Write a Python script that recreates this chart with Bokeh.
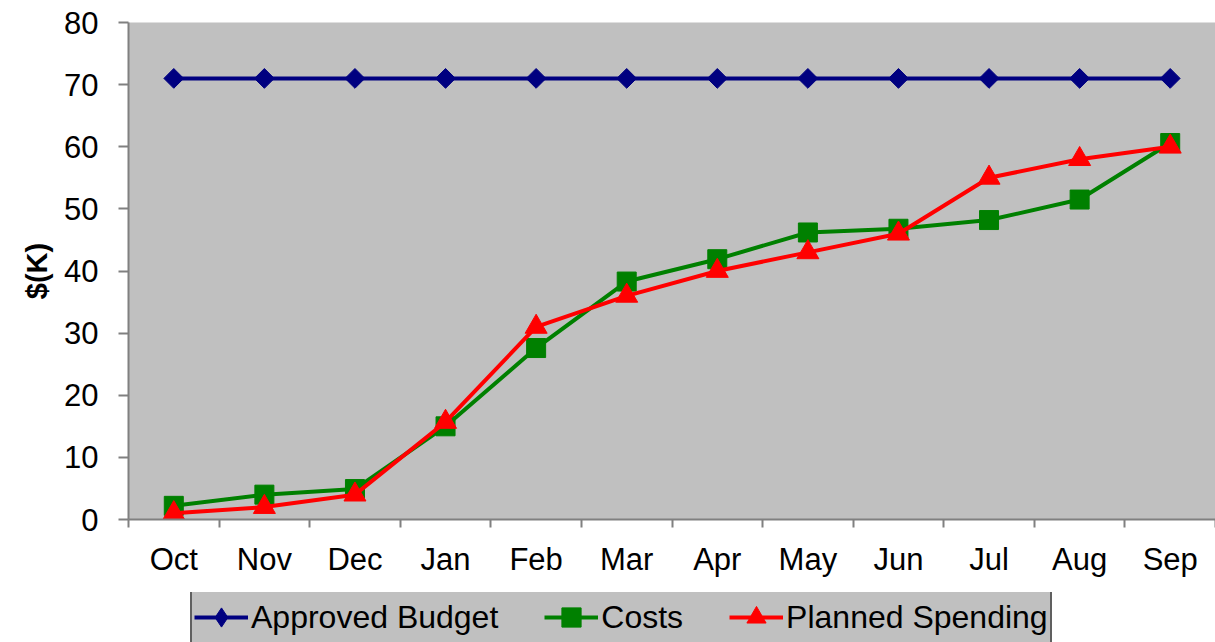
import numpy as np
from bokeh.plotting import figure
from bokeh.layouts import column
from bokeh.models import Range1d, FixedTicker, Legend, LegendItem, ColumnDataSource
from bokeh.embed import file_html
from bokeh.resources import INLINE

months = ["Oct", "Nov", "Dec", "Jan", "Feb", "Mar", "Apr", "May", "Jun", "Jul", "Aug", "Sep"]
approved_budget = [71, 71, 71, 71, 71, 71, 71, 71, 71, 71, 71, 71]
costs = [2.2, 4.0, 4.9, 15.0, 27.6, 38.3, 41.9, 46.2, 46.8, 48.2, 51.5, 60.6]
planned_spending = [1.0, 2.0, 4.0, 15.7, 31.0, 36.0, 40.0, 43.0, 46.0, 55.0, 58.0, 60.0]
y_ticks = [0, 10, 20, 30, 40, 50, 60, 70, 80]

xpos = [i + 0.5 for i in range(len(months))]
src = ColumnDataSource(dict(x=xpos, month=months, approved=approved_budget,
                            costs=costs, planned=planned_spending))

FONT = "Liberation Sans"
AXIS_GRAY = "#808080"
NAVY, GREEN, RED = "#000080", "#008000", "#FF0000"
W = 1215
H1, H2 = 592, 50

p = figure(width=W, height=H1, output_backend="svg", toolbar_location=None,
           x_range=Range1d(0, len(months)), y_range=Range1d(y_ticks[0], y_ticks[-1]),
           min_border_left=128, min_border_right=0, min_border_top=22, min_border_bottom=73)
p.background_fill_color = "#C0C0C0"
p.border_fill_color = "white"
p.outline_line_color = None
p.xgrid.grid_line_color = None
p.ygrid.grid_line_color = None

# x axis: labels centred on categories, tick marks between categories
xa = p.xaxis[0]
xa.ticker = FixedTicker(ticks=xpos, minor_ticks=list(range(len(months) + 1)))
xa.major_label_overrides = {x: m for x, m in zip(xpos, months)}
xa.major_tick_line_color = None
xa.major_tick_out = 0
xa.major_tick_in = 0
xa.minor_tick_out = 8
xa.minor_tick_in = 0
xa.minor_tick_line_color = AXIS_GRAY
xa.minor_tick_line_width = 2
xa.axis_line_color = AXIS_GRAY
xa.axis_line_width = 2
xa.major_label_text_font = FONT
xa.major_label_text_font_size = "31px"
xa.major_label_text_color = "black"
xa.major_label_standoff = 14

ya = p.yaxis[0]
ya.ticker = FixedTicker(ticks=y_ticks, minor_ticks=[])
ya.major_tick_out = 10
ya.major_tick_in = 0
ya.major_tick_line_color = AXIS_GRAY
ya.major_tick_line_width = 2
ya.axis_line_color = AXIS_GRAY
ya.axis_line_width = 2
ya.major_label_text_font = FONT
ya.major_label_text_font_size = "31px"
ya.major_label_text_color = "black"
ya.major_label_standoff = 20
ya.axis_label = "$(K)"
ya.axis_label_text_font = FONT
ya.axis_label_text_font_style = "bold"
ya.axis_label_text_font_size = "29px"
ya.axis_label_text_color = "black"
ya.axis_label_standoff = 8

LW = 4
p.line("x", "approved", source=src, line_color=NAVY, line_width=LW)
p.scatter("x", "approved", source=src, marker="square", angle=np.pi / 4, size=14,
          fill_color=NAVY, line_color=NAVY)
p.line("x", "costs", source=src, line_color=GREEN, line_width=LW)
p.scatter("x", "costs", source=src, marker="square", size=19,
          fill_color=GREEN, line_color=GREEN)
p.line("x", "planned", source=src, line_color=RED, line_width=LW)
p.scatter("x", "planned", source=src, marker="triangle", size=22,
          fill_color=RED, line_color=RED)

# legend strip below the chart (its glyph samples lie outside its own view)
q = figure(width=W, height=H2, output_backend="svg", toolbar_location=None,
           x_axis_type=None, y_axis_type=None,
           x_range=Range1d(0, len(months)), y_range=Range1d(1000, 1001),
           min_border_left=0, min_border_right=0, min_border_top=0, min_border_bottom=0)
q.outline_line_color = None
q.background_fill_color = "white"
q.border_fill_color = "white"
q.xgrid.grid_line_color = None
q.ygrid.grid_line_color = None
k1 = q.line("x", "approved", source=src, line_color=NAVY, line_width=LW)
s1 = q.scatter("x", "approved", source=src, marker="diamond", fill_color=NAVY, line_color=NAVY)
k2 = q.line("x", "costs", source=src, line_color=GREEN, line_width=LW)
s2 = q.scatter("x", "costs", source=src, marker="square", fill_color=GREEN, line_color=GREEN)
k3 = q.line("x", "planned", source=src, line_color=RED, line_width=LW)
s3 = q.scatter("x", "planned", source=src, marker="triangle", fill_color=RED, line_color=RED)

legend = Legend(items=[
    LegendItem(label="Approved Budget", renderers=[k1, s1]),
    LegendItem(label="Costs", renderers=[k2, s2]),
    LegendItem(label="Planned Spending", renderers=[k3, s3]),
], orientation="horizontal", location=(62, -3))
legend.label_text_font = FONT
legend.label_text_font_size = "32px"
legend.label_text_color = "black"
legend.glyph_width = 54
legend.glyph_height = 48
legend.label_standoff = 3
legend.spacing = 46
legend.padding = 2
legend.margin = 0
legend.background_fill_color = "#C0C0C0"
legend.background_fill_alpha = 1.0
legend.border_line_color = "black"
legend.border_line_width = 2
q.add_layout(legend, "center")

layout = column(p, q, spacing=0)
open("out.html", "w").write(file_html(layout, INLINE))
